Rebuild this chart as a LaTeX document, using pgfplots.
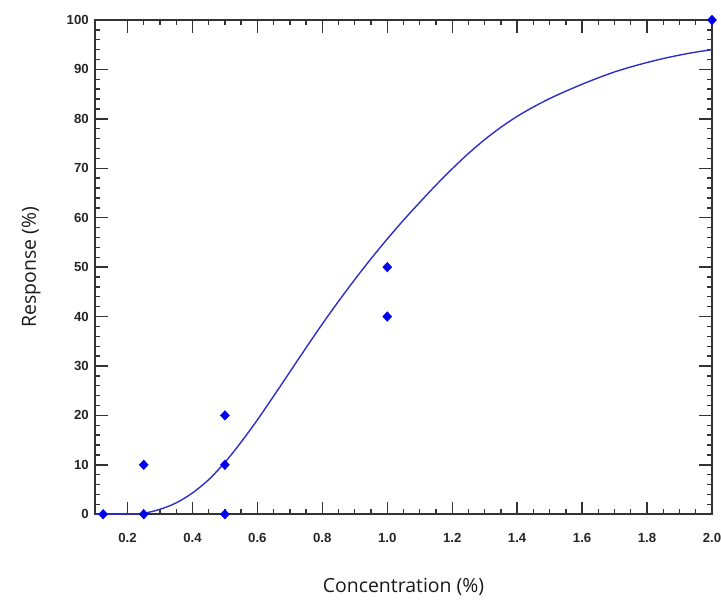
\documentclass[border=0pt]{standalone}
\usepackage{fontspec}
\setmainfont{Liberation Sans}
\newfontfamily\labelfont{Open Sans}
\usepackage{pgfplots}
\pgfplotsset{compat=1.18}

\begin{document}
\begin{tikzpicture}
\begin{axis}[
    scale only axis,
    width=444pt, height=355.7pt,
    xmin=0.1, xmax=2.0,
    ymin=0, ymax=100,
    xtick={0.2,0.4,...,2.0},
    ytick={0,10,...,100},
    minor x tick num=3,
    minor y tick num=4,
    tick align=inside,
    major tick length=9pt,
    minor tick length=3.5pt,
    every tick/.style={black!80, line width=1pt},
    axis line style={black!80, line width=1.3pt},
    ticklabel style={font=\fontsize{9.5}{10}\selectfont\bfseries, text=black!85},
    /pgf/number format/assume math mode=true,
    x tick label style={yshift=-10pt, /pgf/number format/fixed, /pgf/number format/fixed zerofill, /pgf/number format/precision=1},
    y tick label style={xshift=-1pt},
    xtick pos=both, ytick pos=both,
    xticklabel pos=lower, yticklabel pos=left,
    xlabel={\labelfont Concentration (\%)},
    ylabel={\labelfont Response (\%)},
    label style={font=\fontsize{14}{16}\selectfont, text=black!90},
    xlabel style={yshift=-19pt},
    ylabel style={yshift=12pt},
    clip=false,
]
% fitted response curve
\addplot[smooth, color={rgb,255:red,45;green,45;blue,200}, line width=1pt] coordinates {
  (0.10,0) (0.20,0.05) (0.25,0.2) (0.30,1.0) (0.35,2.3) (0.40,4.3)
  (0.45,7.0) (0.50,10.5) (0.55,14.6) (0.60,19.1) (0.65,23.9) (0.70,28.8)
  (0.75,33.7) (0.80,38.5) (0.85,43.1) (0.90,47.5) (0.95,51.7) (1.00,55.7)
  (1.05,59.5) (1.10,63.1) (1.15,66.6) (1.20,69.9) (1.25,73.0) (1.30,75.8)
  (1.35,78.3) (1.40,80.5) (1.45,82.4) (1.50,84.1) (1.55,85.6) (1.60,87.0)
  (1.65,88.3) (1.70,89.5) (1.75,90.5) (1.80,91.4) (1.85,92.2) (1.90,92.9)
  (1.95,93.5) (2.00,94.0)
};
% observed responses
\addplot[only marks, mark=diamond*, mark size=3.4pt, mark options={xscale=1.25}, color={rgb,255:red,0;green,0;blue,235}] coordinates {
  (0.125,0) (0.25,10) (0.25,0) (0.5,20) (0.5,10) (0.5,0)
  (1.0,50) (1.0,40) (2.0,100)
};
\end{axis}
\pgfresetboundingbox
\path (current axis.south west) ++(-68.4pt,-62.6pt) coordinate (bl);
\path (current axis.north east) ++(6.5pt,14.4pt) coordinate (tr);
\path[use as bounding box] (bl) rectangle (tr);
\end{tikzpicture}
\end{document}
